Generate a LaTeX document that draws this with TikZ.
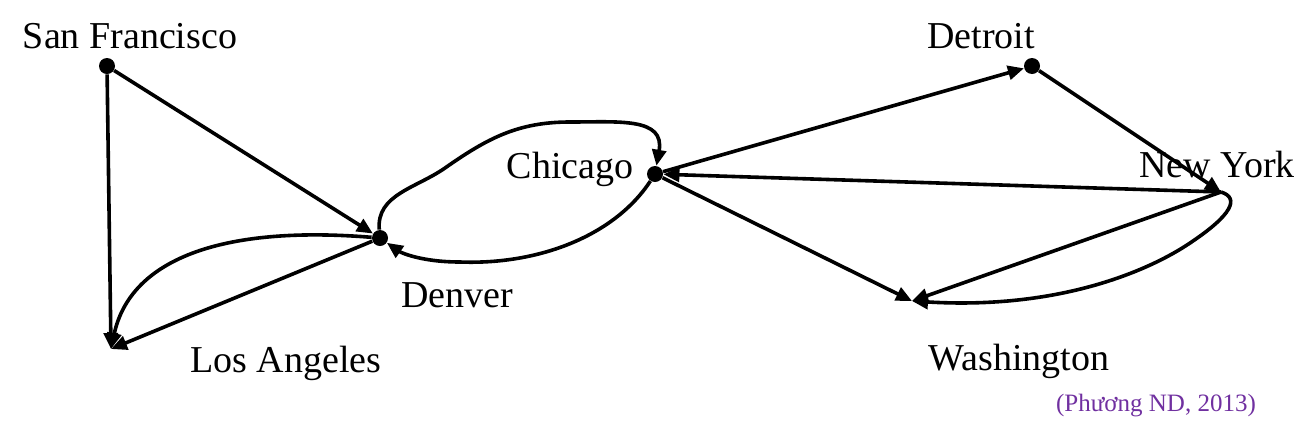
\documentclass[tikz,border=0pt]{standalone}
\usepackage{fontspec}
\setmainfont{Liberation Serif}
\usetikzlibrary{arrows.meta,shapes}
\definecolor{notepurple}{HTML}{7030A0}
\tikzset{
	city/.style={font=\fontsize{19}{22}\selectfont, inner sep=0pt, anchor=base},
	dot/.style={circle, fill=black, inner sep=0pt, minimum size=8pt},
	arc/.style={line width=1.8pt, -{Triangle[length=8pt,width=7pt]}},
}

\begin{document}
\begin{tikzpicture}[x=.5pt, y=-.5pt]
	\useasboundingbox (0,0) rectangle (1316,440);
	% cities
	\node[dot] (sf) at (107,66) {};
	\node[dot] (den) at (380,238) {};
	\node[dot] (chi) at (655,174) {};
	\node[dot] (det) at (1032,66) {};
	\coordinate (la) at (111,349);
	\coordinate (ny) at (1221,192);
	\coordinate (wash) at (912,301);
	% names
	\node[city] (sflab) at (130,48) {San Francisco};
	\node[city] (lalab) at (286,372) {Los Angeles};
	\node[city] (denlab) at (457,307) {Denver};
	\node[city] (chilab) at (570,178) {Chicago};
	\node[city] (detlab) at (981,48) {Detroit};
	\node[city] (nylab) at (1217,177) {New York};
	\node[city] (washlab) at (1019,370) {Washington};
	\node[font=\fontsize{12.5}{14}\selectfont, text=notepurple, inner sep=0pt, anchor=base] (note) at (1156,411) {(Phương ND, 2013)};
	% flights
	\draw[arc] (sf) -- (la);
	\draw[arc] (sf) -- (den);
	\draw[arc] (den) -- (la);
	\draw[arc] (den) .. controls (220,225) and (130,260) .. (la);
	\draw[arc] (den) to[out=95,in=215] (445,168) to[out=35,in=180] (570,122)
		to[out=0,in=80,looseness=1.3] (chi);
	\draw[arc] (chi) .. controls (615,235) and (540,265) .. (460,262)
		.. controls (420,262) and (400,252) .. (den);
	\draw[arc] (chi) -- (det);
	\draw[arc] (det) -- (ny);
	\draw[arc] (ny) -- (chi);
	\draw[arc] (chi) -- (wash);
	\draw[arc] (ny) -- (wash);
	\draw[arc] (ny) .. controls (1240,198) and (1232,215) .. (1190,243)
		.. controls (1150,270) and (1060,310) .. (wash);
\end{tikzpicture}
\end{document}
